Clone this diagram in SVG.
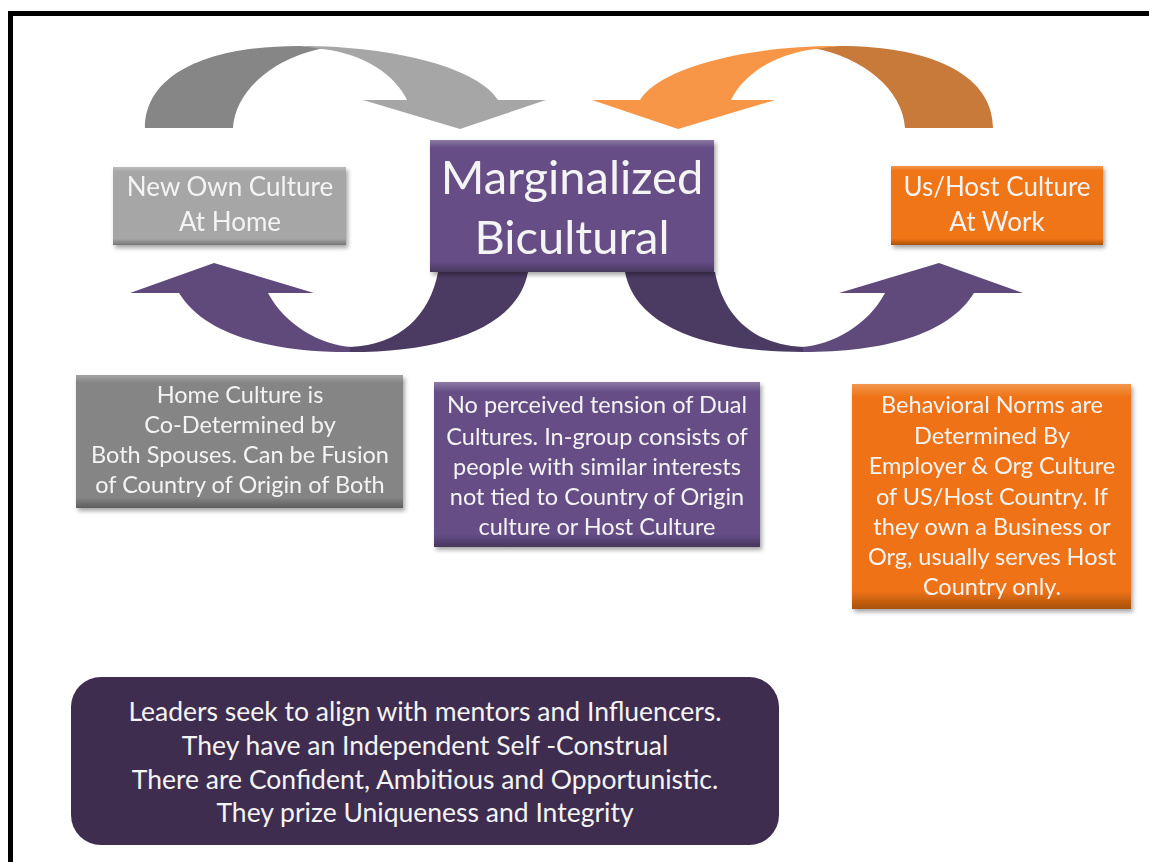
<svg xmlns="http://www.w3.org/2000/svg" width="1149" height="862" viewBox="0 0 1149 862">
<defs>
<filter id="sh" x="-10%" y="-10%" width="125%" height="130%">
<feDropShadow dx="2" dy="3" stdDeviation="2" flood-color="#000" flood-opacity="0.35"/>
</filter>
<linearGradient id="bev" x1="0" y1="0" x2="0" y2="1">
<stop offset="0" stop-color="#fff" stop-opacity="0.25"/>
<stop offset="0.06" stop-color="#fff" stop-opacity="0"/>
<stop offset="0.92" stop-color="#000" stop-opacity="0"/>
<stop offset="1" stop-color="#000" stop-opacity="0.3"/>
</linearGradient>
<style>
.t{font-family:Lato,"Open Sans","Liberation Sans",sans-serif;fill:#f4f4f4;text-anchor:middle}
.s{font-size:26px}
.m{font-size:23.5px}
.b{font-size:26.5px}
.big{font-size:47px}
</style>
</defs>
<rect x="0" y="0" width="1149" height="862" fill="#fff"/>
<rect x="10.5" y="13.5" width="1200" height="900" fill="none" stroke="#000" stroke-width="5"/>

<g id="connectors">
<g id="arrow-gray">
<path d="M145,128 C145,78 200,46 300,46 L325,48 C275,57 235,90 233,128 Z" fill="#868686"/>
<path d="M300,46 C400,46 480,70 498,100 L546,100 L460,129 L363,100 L407,100 C395,75 365,54 322,49 Z" fill="#a6a6a6"/>
</g>
<g id="arrow-orange" transform="translate(1138,0) scale(-1,1)">
<path d="M145,128 C145,78 200,46 300,46 L325,48 C275,57 235,90 233,128 Z" fill="#c77a3a"/>
<path d="M300,46 C400,46 480,70 498,100 L546,100 L460,129 L363,100 L407,100 C395,75 365,54 322,49 Z" fill="#f79646"/>
</g>
<g id="arrow-left">
<path d="M350,352 C270,352 205,335 179,293 L130,293 L214,263 L314,293 L268,293 C285,325 320,345 352,347 Z" fill="#604a7b"/>
<path d="M350,347 C400,345 430,315 438,272 L528,272 C518,325 450,352 350,352 Z" fill="#4b3a62"/>
</g>
<g id="arrow-right" transform="translate(1153,0) scale(-1,1)">
<path d="M350,352 C270,352 205,335 179,293 L130,293 L214,263 L314,293 L268,293 C285,325 320,345 352,347 Z" fill="#604a7b"/>
<path d="M350,347 C400,345 430,315 438,272 L528,272 C518,325 450,352 350,352 Z" fill="#4b3a62"/>
</g>
</g>

<g id="node-own-culture" filter="url(#sh)">
<rect x="113" y="167" width="233" height="78" fill="#a6a6a6"/>
<rect x="113" y="167" width="233" height="78" fill="url(#bev)"/>
<text class="t s" x="230" y="196">New Own Culture</text>
<text class="t s" x="230" y="231">At Home</text>
</g>

<g id="node-marginalized" filter="url(#sh)">
<rect x="430" y="140" width="284" height="132" fill="#664e86"/>
<rect x="430" y="140" width="284" height="132" fill="url(#bev)"/>
<text class="t big" x="572" y="194">Marginalized</text>
<text class="t big" x="572" y="254">Bicultural</text>
</g>

<g id="node-host-culture" filter="url(#sh)">
<rect x="891" y="166" width="212" height="79" fill="#f07414"/>
<rect x="891" y="166" width="212" height="79" fill="url(#bev)"/>
<text class="t s" x="997" y="196">Us/Host Culture</text>
<text class="t s" x="997" y="231">At Work</text>
</g>

<g id="node-home-culture" filter="url(#sh)">
<rect x="76" y="375" width="327" height="133" fill="#858585"/>
<rect x="76" y="375" width="327" height="133" fill="url(#bev)"/>
<text class="t m" x="240" y="403">Home Culture is</text>
<text class="t m" x="240" y="433">Co-Determined by</text>
<text class="t m" x="240" y="463">Both Spouses. Can be Fusion</text>
<text class="t m" x="240" y="493">of Country of Origin of Both</text>
</g>

<g id="node-no-tension" filter="url(#sh)">
<rect x="434" y="382" width="326" height="165" fill="#664e86"/>
<rect x="434" y="382" width="326" height="165" fill="url(#bev)"/>
<text class="t m" x="597" y="413">No perceived tension of Dual</text>
<text class="t m" x="597" y="445">Cultures. In-group consists of</text>
<text class="t m" x="597" y="475">people with similar interests</text>
<text class="t m" x="597" y="505">not tied to Country of Origin</text>
<text class="t m" x="597" y="535">culture or Host Culture</text>
</g>

<g id="node-norms" filter="url(#sh)">
<rect x="852" y="384" width="279" height="225" fill="#ef7314"/>
<rect x="852" y="384" width="279" height="225" fill="url(#bev)"/>
<text class="t m" x="992" y="413">Behavioral Norms are</text>
<text class="t m" x="992" y="444">Determined By</text>
<text class="t m" x="992" y="474">Employer &amp; Org Culture</text>
<text class="t m" x="992" y="505">of US/Host Country. If</text>
<text class="t m" x="992" y="535">they own a Business or</text>
<text class="t m" x="992" y="565">Org, usually serves Host</text>
<text class="t m" x="992" y="595">Country only.</text>
</g>

<g id="node-leaders">
<rect x="71" y="677" width="708" height="168" rx="30" fill="#3f2d4f"/>
<text class="t b" x="425" y="721">Leaders seek to align with mentors and Influencers.</text>
<text class="t b" x="425" y="755">They have an Independent Self -Construal</text>
<text class="t b" x="425" y="789">There are Confident, Ambitious and Opportunistic.</text>
<text class="t b" x="425" y="822">They prize Uniqueness and Integrity</text>
</g>
</svg>
